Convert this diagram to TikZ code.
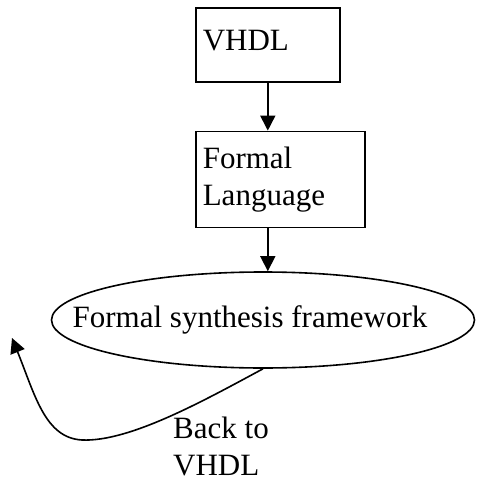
\documentclass[tikz,border=0pt]{standalone}
\usepackage{fontspec}
\setmainfont{Liberation Serif}
\usetikzlibrary{shapes.geometric,arrows.meta,positioning}
\tikzstyle{block}=[rectangle,draw=black,line width=1.6pt,align=left,inner xsep=7pt,inner ysep=0pt,font=\fontsize{31}{37}\selectfont]
\tikzstyle{frame}=[ellipse,draw=black,line width=1.6pt,minimum width=423pt,minimum height=96pt,inner sep=0pt,font=\fontsize{31}{37}\selectfont]
\tikzstyle{arrow}=[line width=1.6pt,-{Triangle[length=15pt,width=15pt]},draw=black]
\begin{document}
\begin{tikzpicture}[x=1pt,y=-1pt]
    \useasboundingbox (0,0) rectangle (476,481);
    \node (V) [block, anchor=north west, text width=130pt, minimum height=74pt, text depth=8pt] at (195,7) {VHDL};
    \node (L) [block, text width=155pt, minimum height=96pt] [below=48pt of V.south west, anchor=north west] {Formal\\Language};
    \node (S) [frame] at (263,320) {\makebox[0pt]{\hspace*{-26pt}Formal synthesis framework}};
    \node (B) [anchor=north west, align=left, inner sep=0pt, font=\fontsize{31}{37}\selectfont] at (173,417) {Back to\\VHDL};
    \coordinate (tip) at (12,338);

    \draw[arrow] (V.south) -- (V.south |- L.north);
    \draw[arrow] (V.south |- L.south) -- (V.south |- S.north);
    \draw[arrow] (S.south) .. controls (205,400) and (130,442) .. (82,440)
        .. controls (45,438) and (35,395) .. (tip);
\end{tikzpicture}
\end{document}
